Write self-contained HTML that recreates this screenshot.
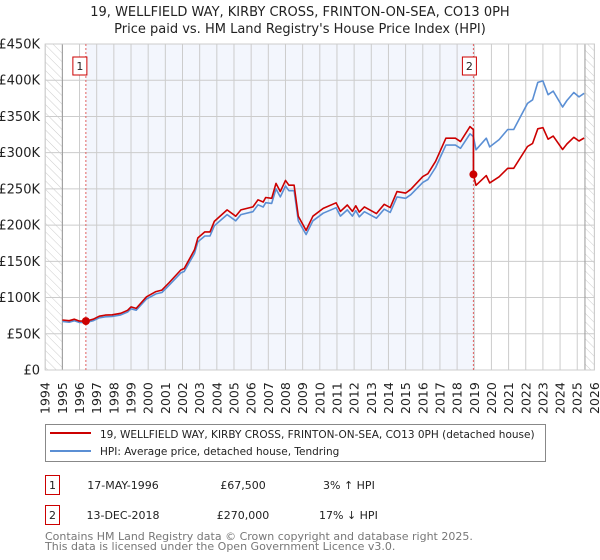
<!DOCTYPE html>
<html><head><meta charset="utf-8"><style>
html,body{margin:0;padding:0;background:#fff;}
svg{display:block;font-family:"DejaVu Sans","Liberation Sans",sans-serif;}
</style></head><body>
<svg id="c" width="600" height="560" viewBox="0 0 600 560" xmlns="http://www.w3.org/2000/svg">
<defs>
<pattern id="hatch" patternUnits="userSpaceOnUse" width="6" height="6" patternTransform="rotate(-45)">
<line x1="0" y1="0" x2="0" y2="6" stroke="#ccc" stroke-width="1"/>
</pattern>
</defs>
<text x="300" y="16" text-anchor="middle" font-size="13" fill="#222">19, WELLFIELD WAY, KIRBY CROSS, FRINTON-ON-SEA, CO13 0PH</text>
<text x="300" y="33" text-anchor="middle" font-size="13" fill="#222">Price paid vs. HM Land Registry's House Price Index (HPI)</text>
<g id="plot"></g>
<g>
<rect x="45.5" y="424.5" width="500" height="37" fill="#fff" stroke="#888" stroke-width="1"/>
<line x1="50" y1="433" x2="91" y2="433" stroke="#cc0000" stroke-width="2"/>
<text x="100" y="438" font-size="10.5" fill="#222">19, WELLFIELD WAY, KIRBY CROSS, FRINTON-ON-SEA, CO13 0PH (detached house)</text>
<line x1="50" y1="451" x2="91" y2="451" stroke="#5b8fd4" stroke-width="2"/>
<text x="100" y="455" font-size="10.5" fill="#222">HPI: Average price, detached house, Tendring</text>
</g>
<g>
<rect x="45.5" y="475.5" width="14" height="19" fill="#fff" stroke="#cc0000"/>
<text x="52.5" y="489" text-anchor="middle" font-size="11" fill="#222">1</text>
<text x="123" y="489" text-anchor="middle" font-size="11" fill="#222">17-MAY-1996</text>
<text x="243" y="489" text-anchor="middle" font-size="11" fill="#222">£67,500</text>
<text x="323" y="489" font-size="11" fill="#222">3% ↑ HPI</text>
<rect x="45.5" y="505.5" width="14" height="19" fill="#fff" stroke="#cc0000"/>
<text x="52.5" y="519" text-anchor="middle" font-size="11" fill="#222">2</text>
<text x="123" y="519" text-anchor="middle" font-size="11" fill="#222">13-DEC-2018</text>
<text x="243" y="519" text-anchor="middle" font-size="11" fill="#222">£270,000</text>
<text x="319" y="519" font-size="11" fill="#222">17% ↓ HPI</text>
</g>
<text x="45" y="540" font-size="11" fill="#777">Contains HM Land Registry data © Crown copyright and database right 2025.</text>
<text x="45" y="550" font-size="11" fill="#777">This data is licensed under the Open Government Licence v3.0.</text>
</svg>
<script>
const hpiYears = [1995.0,1995.4,1995.7,1996.0,1996.37,1996.8,1997.15,1997.5,1997.9,1998.4,1998.8,1999.0,1999.3,1999.9,2000.45,2000.8,2001.2,2001.9,2002.1,2002.7,2002.9,2003.3,2003.6,2003.85,2004.6,2005.1,2005.4,2006.1,2006.4,2006.7,2006.85,2007.2,2007.45,2007.7,2008.0,2008.2,2008.5,2008.75,2009.2,2009.6,2010.2,2010.95,2011.2,2011.6,2011.9,2012.1,2012.3,2012.6,2013.3,2013.75,2014.1,2014.5,2015.0,2015.3,2016.0,2016.3,2016.75,2017.35,2017.9,2018.2,2018.75,2018.95,2019.1,2019.7,2019.9,2020.45,2020.95,2021.3,2022.1,2022.4,2022.7,2023.0,2023.3,2023.6,2024.15,2024.4,2024.8,2025.1,2025.4];
const hpiValues = [67,66,68,65.5,65.5,68,72,73.5,74,76,80,84.5,82.5,98,105,107,116.5,134,136,161,177,185,185,199,214.5,206,214.5,218.5,228,225,231,230,250,239,254,247.5,247.5,206,187,206,216.5,224,212.5,221,212.5,220,211.5,218.5,209.5,222,217.5,239,237,242,259,263,279.5,310.5,310.5,306,326,322,304,320,308,318,332,332,368,373,397,399,380,385,363,372,383,377,382];
const saleYears = [1996.37, 2018.95];
const salePrices = [67.5, 270];
const yTicks = [0,50,100,150,200,250,300,350,400,450];
const yTickLabels = ["£0","£50K","£100K","£150K","£200K","£250K","£300K","£350K","£400K","£450K"];
const xTicks = [];
for (let y = 1994; y <= 2026; y++) xTicks.push(y);

const NS = "http://www.w3.org/2000/svg";
const X0 = 45.2, X1 = 594.4, Y0 = 370, Y1 = 44;
const xs = y => X0 + (y - 1994) / 32 * (X1 - X0);
const ys = v => Y0 - v / 450 * (Y0 - Y1);
const g = document.getElementById('plot');
function mk(tag, attrs, parent) {
  const e = document.createElementNS(NS, tag);
  for (const k in attrs) e.setAttribute(k, attrs[k]);
  (parent || g).appendChild(e);
  return e;
}
function hpiAt(t) {
  for (let i = 0; i < hpiYears.length - 1; i++) {
    if (t >= hpiYears[i] && t <= hpiYears[i+1]) {
      const f = (t - hpiYears[i]) / (hpiYears[i+1] - hpiYears[i]);
      return hpiValues[i] + f * (hpiValues[i+1] - hpiValues[i]);
    }
  }
  return hpiValues[hpiValues.length - 1];
}
let bg = mk('rect', {x:X0, y:Y1, width:X1-X0, height:Y0-Y1, fill:'#fff'});


let shade = mk('rect', {x:xs(saleYears[0]), y:Y1, width:xs(saleYears[1])-xs(saleYears[0]), height:Y0-Y1, fill:'#f3f6fd'});


let hl = mk('rect', {x:X0, y:Y1, width:xs(1995)-X0, height:Y0-Y1, fill:'url(#hatch)'});


let hr = mk('rect', {x:xs(2025.45), y:Y1, width:X1-xs(2025.45), height:Y0-Y1, fill:'url(#hatch)'});


yTicks.forEach((v, i) => {
  const ln = mk('line', {x1:X0, x2:X1, y1:ys(v), y2:ys(v), stroke:'#ccc', 'stroke-width':1});
  
  
  const t = mk('text', {x:40, y:ys(v)+4.5, 'text-anchor':'end', 'font-size':13, fill:'#222'});
  t.textContent = yTickLabels[i];
  
  
});
xTicks.forEach(yr => {
  const ln = mk('line', {x1:xs(yr), x2:xs(yr), y1:Y1, y2:Y0, stroke:'#ccc', 'stroke-width':1});
  
  
  const t = mk('text', {x:0, y:0, 'font-size':12.5, fill:'#222', transform:`translate(${xs(yr)+4.5},414) rotate(-90)`});
  t.textContent = yr;
  
  
});
let ax1 = mk('line', {x1:xs(1995), x2:xs(1995), y1:Y1, y2:Y0, stroke:'#999', 'stroke-width':1});


let ax2 = mk('line', {x1:xs(2025.45), x2:xs(2025.45), y1:Y1, y2:Y0, stroke:'#999', 'stroke-width':1});


let border = mk('rect', {x:X0, y:Y1, width:X1-X0, height:Y0-Y1, fill:'none', stroke:'#ccc'});


saleYears.forEach((sy, i) => {
  const ln = mk('line', {x1:xs(sy), x2:xs(sy), y1:Y1, y2:Y0, stroke:'#e06060', 'stroke-width':1, 'stroke-dasharray':'2,2'});
  
  
  const r = mk('rect', {x:xs(sy)-10, y:57, width:14, height:18, fill:'#fff', stroke:'#cc0000'});
  r.setAttribute('x', xs(sy) - (i === 0 ? 13 : 11));
  
  
  const t = mk('text', {x:xs(sy) - (i === 0 ? 6 : 4), y:70, 'text-anchor':'middle', 'font-size':11, fill:'#222'});
  t.textContent = String(i+1);
  
  
});
const hpiPts = hpiYears.map((y, i) => xs(y).toFixed(1) + ',' + ys(hpiValues[i]).toFixed(1)).join(' ');
const hpiLine = mk('polyline', {points:hpiPts, fill:'none', stroke:'#5b8fd4', 'stroke-width':1.6, 'stroke-linejoin':'round'});


const redPts = [];
hpiYears.forEach((y, i) => {
  let k = 0;
  for (let j = 0; j < saleYears.length; j++) if (y >= saleYears[j]) k = j;
  const v = salePrices[k] * hpiValues[i] / hpiAt(saleYears[k]);
  redPts.push([y, v]);
});
const r2 = [];
for (let i = 0; i < redPts.length; i++) {
  r2.push(redPts[i]);
  if (i < redPts.length - 1 && redPts[i][0] < saleYears[1] && redPts[i+1][0] >= saleYears[1]) {
    r2.push([saleYears[1], salePrices[0] * hpiAt(saleYears[1]) / hpiAt(saleYears[0])]);
    r2.push([saleYears[1], salePrices[1]]);
  }
}
const redLine = mk('polyline', {points:r2.map(p => xs(p[0]).toFixed(1) + ',' + ys(p[1]).toFixed(1)).join(' '), fill:'none', stroke:'#cc0000', 'stroke-width':1.6, 'stroke-linejoin':'round'});


saleYears.forEach((sy, i) => {
  const c = mk('circle', {cx:xs(sy), cy:ys(salePrices[i]), r:4, fill:'#cc0000'});
  
  
});
</script>
</body></html>
